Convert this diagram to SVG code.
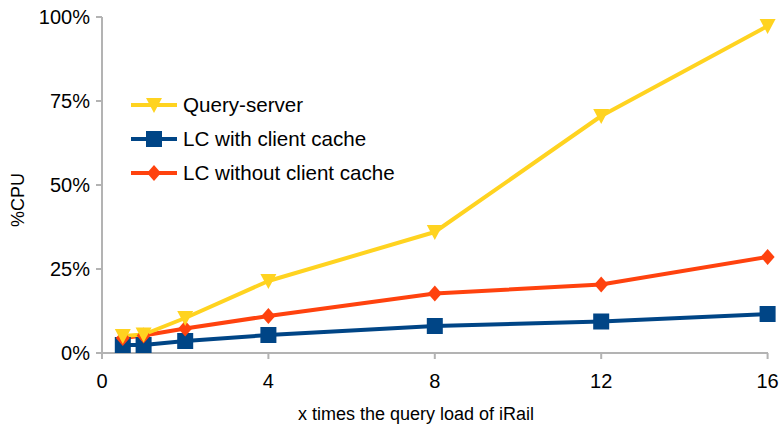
<svg xmlns="http://www.w3.org/2000/svg" width="781" height="429" viewBox="0 0 781 429">
<style>
text{font-family:"Liberation Sans",Arial,sans-serif;font-size:20px;fill:#000}
.t{font-size:18px}
.lg{font-size:20.6px}
.axis{stroke:#b3b3b3;stroke-width:2;fill:none}
.ln{fill:none;stroke-width:4;stroke-linejoin:round}
.ys{stroke:#ffd320}
.bs{stroke:#004586}
.rs{stroke:#ff420e}
.y{fill:#ffd320}
.b{fill:#004586}
.r{fill:#ff420e}
</style>
<defs>
<polygon id="tri" points="-8,-7 8,-7 0,8"/>
<rect id="sq" x="-8" y="-8" width="16" height="16"/>
<polygon id="dia" points="0,-8 7,0 0,8 -7,0"/>
</defs>
<rect width="781" height="429" fill="#fff"/>
<g id="axes">
<path class="axis" d="M102,17V353M96,17H102M96,101H102M96,185H102M96,269H102M96,353H768M102,353V359M268.4,353V359M434.8,353V359M601.2,353V359M767.6,353V359"/>
<g text-anchor="end">
<text x="90" y="24">100%</text>
<text x="90" y="108">75%</text>
<text x="90" y="192">50%</text>
<text x="90" y="276">25%</text>
<text x="90" y="360">0%</text>
</g>
<g text-anchor="middle">
<text x="102" y="388">0</text>
<text x="268.4" y="388">4</text>
<text x="434.8" y="388">8</text>
<text x="601.2" y="388">12</text>
<text x="767.6" y="388">16</text>
<text class="t" x="416" y="420">x times the query load of iRail</text>
<text class="t" transform="translate(24,200) rotate(-90)">%CPU</text>
</g>
</g>
<g id="connectors">
<polyline class="ln bs" points="122.8,345 143.6,345 185.2,341 268.4,335 434.8,326 601.2,321.5 767.6,314"/>
<polyline class="ln rs" points="122.8,338 143.6,335.5 185.2,328.5 268.4,316 434.8,293.5 601.2,284.5 767.6,257"/>
<polyline class="ln ys" points="122.8,336 143.6,334.5 185.2,318 268.4,281 434.8,232 601.2,116 767.6,26"/>
</g>
<g id="series-lc-cache" class="b">
<use href="#sq" x="122.8" y="345"/><use href="#sq" x="143.6" y="345"/><use href="#sq" x="185.2" y="341"/><use href="#sq" x="268.4" y="335"/><use href="#sq" x="434.8" y="326"/><use href="#sq" x="601.2" y="321.5"/><use href="#sq" x="767.6" y="314"/>
</g>
<g id="series-lc-nocache" class="r">
<use href="#dia" x="122.8" y="338"/><use href="#dia" x="143.6" y="335.5"/><use href="#dia" x="185.2" y="328.5"/><use href="#dia" x="268.4" y="316"/><use href="#dia" x="434.8" y="293.5"/><use href="#dia" x="601.2" y="284.5"/><use href="#dia" x="767.6" y="257"/>
</g>
<g id="series-query" class="y">
<use href="#tri" x="122.8" y="336"/><use href="#tri" x="143.6" y="334.5"/><use href="#tri" x="185.2" y="318"/><use href="#tri" x="268.4" y="281"/><use href="#tri" x="434.8" y="232"/><use href="#tri" x="601.2" y="116"/><use href="#tri" x="767.6" y="26"/>
</g>
<g id="legend">
<line class="ln ys" x1="131" y1="105" x2="177" y2="105"/><use class="y" href="#tri" x="154" y="105"/>
<text class="lg" x="183" y="112">Query-server</text>
<line class="ln bs" x1="131" y1="139" x2="177" y2="139"/><use class="b" href="#sq" x="154" y="139"/>
<text class="lg" x="183" y="146">LC with client cache</text>
<line class="ln rs" x1="131" y1="173" x2="177" y2="173"/><use class="r" href="#dia" x="154" y="173"/>
<text class="lg" x="183" y="180">LC without client cache</text>
</g>
</svg>
